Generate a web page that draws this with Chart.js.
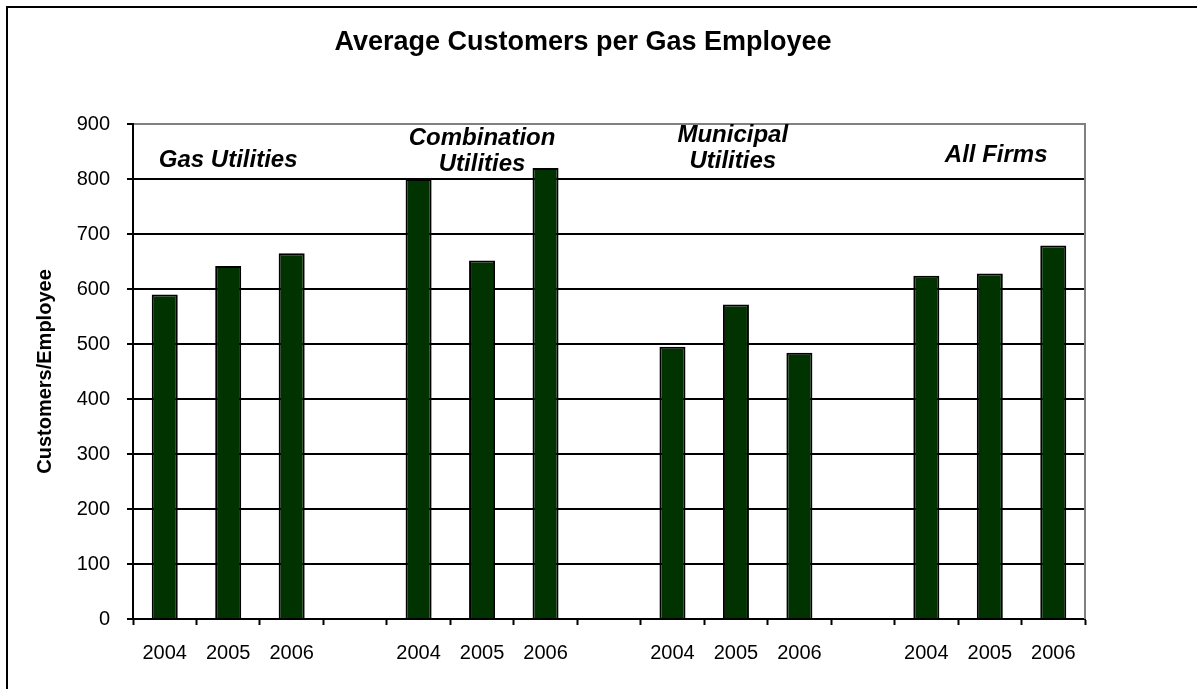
<!DOCTYPE html>
<html>
<head>
<meta charset="utf-8">
<script src="https://cdn.jsdelivr.net/npm/chart.js@4/dist/chart.umd.min.js"></script>
<style>
  html, body { margin: 0; padding: 0; background: #fff; }
  #wrap { position: relative; width: 1197px; height: 689px; overflow: hidden; }
  #frame { position: absolute; left: 6px; top: 6px; width: 1400px; height: 900px;
           border-left: 2px solid #000; border-top: 2px solid #000; pointer-events: none; }
  canvas { position: absolute; left: 0; top: 0; }
</style>
</head>
<body>
<div id="wrap">
  <canvas id="c" width="1197" height="689"></canvas>
  <div id="frame"></div>
</div>
<script>
// ---- Data ----
const chartTitle = 'Average Customers per Gas Employee';
const yAxisTitle = 'Customers/Employee';
const categories = ['2004', '2005', '2006', '', '2004', '2005', '2006', '', '2004', '2005', '2006', '', '2004', '2005', '2006'];
const customersPerEmployee = [590, 642, 665, null, 800, 652, 820, null, 495, 572, 484, null, 624, 628, 679];
const groupNames = [['Gas Utilities'], ['Combination', 'Utilities'], ['Municipal', 'Utilities'], ['All Firms']];
const yTicksMin = 0;
const yTicksMax = 900;
const yTicksStep = 100;

// ---- Label placement (category index / value where each group caption sits) ----
const groupCaptionAnchors = [
  { index: 1.0, value: 822 },
  { index: 5.0, value: 862 },
  { index: 8.95, value: 867 },
  { index: 13.1, value: 831 }
];
const captionLineValueGap = 47;

const FONT = "'Liberation Sans', Arial, Helvetica, sans-serif";

const overlayPlugin = {
  id: 'overlay',
  afterDatasetsDraw(chart) {
    const { ctx, chartArea, scales } = chart;
    ctx.save();
    // plot frame: gray right edge
    ctx.strokeStyle = '#808080';
    ctx.lineWidth = 2;
    ctx.beginPath();
    ctx.moveTo(chartArea.right, chartArea.top - 1);
    ctx.lineTo(chartArea.right, chartArea.bottom);
    ctx.stroke();

    // group captions
    ctx.fillStyle = '#000';
    ctx.font = 'italic bold 24px ' + FONT;
    ctx.textAlign = 'center';
    ctx.textBaseline = 'alphabetic';
    groupNames.forEach((lines, g) => {
      const a = groupCaptionAnchors[g];
      const x = scales.x.getPixelForValue(a.index);
      lines.forEach((line, li) => {
        const y = scales.y.getPixelForValue(a.value - li * captionLineValueGap);
        ctx.fillText(line, x, y);
      });
    });

    // chart title
    ctx.font = 'bold 27px ' + FONT;
    ctx.textBaseline = 'middle';
    ctx.fillText(chartTitle, 583, 43);
    ctx.restore();
  }
};

new Chart(document.getElementById('c'), {
  type: 'bar',
  data: {
    labels: categories,
    datasets: [{
      data: customersPerEmployee,
      backgroundColor: '#003300',
      borderColor: '#000000',
      borderWidth: 2,
      borderSkipped: 'bottom',
      categoryPercentage: 1.0,
      barPercentage: 0.41
    }]
  },
  options: {
    responsive: false,
    animation: false,
    devicePixelRatio: 1,
    layout: { padding: { top: 124, right: 112, left: 0, bottom: 0 } },
    plugins: {
      legend: { display: false },
      title: { display: false },
      tooltip: { enabled: false }
    },
    scales: {
      x: {
        offset: true,
        grid: {
          offset: true,
          drawOnChartArea: false,
          drawTicks: true,
          tickLength: 6,
          tickColor: '#000',
          tickWidth: 2
        },
        border: { display: true, color: '#000', width: 2 },
        ticks: {
          color: '#000',
          font: { family: FONT, size: 20 },
          maxRotation: 0,
          autoSkip: false,
          padding: 16
        },
        afterFit(scale) { scale.height = 70; }
      },
      y: {
        min: yTicksMin,
        max: yTicksMax,
        grid: {
          color: (c) => (c.tick && c.tick.value === yTicksMax ? '#808080' : '#000'),
          lineWidth: 2,
          tickColor: '#000',
          tickLength: 6,
          tickWidth: 2
        },
        border: { display: true, color: '#000', width: 2 },
        ticks: {
          stepSize: yTicksStep,
          color: '#000',
          font: { family: FONT, size: 20 },
          padding: 17
        },
        title: {
          display: true,
          text: yAxisTitle,
          color: '#000',
          font: { family: FONT, size: 20, weight: 'bold' },
          padding: { top: 33, bottom: 0 }
        },
        afterFit(scale) { scale.width = 133; }
      }
    }
  },
  plugins: [overlayPlugin]
});
</script>
</body>
</html>
